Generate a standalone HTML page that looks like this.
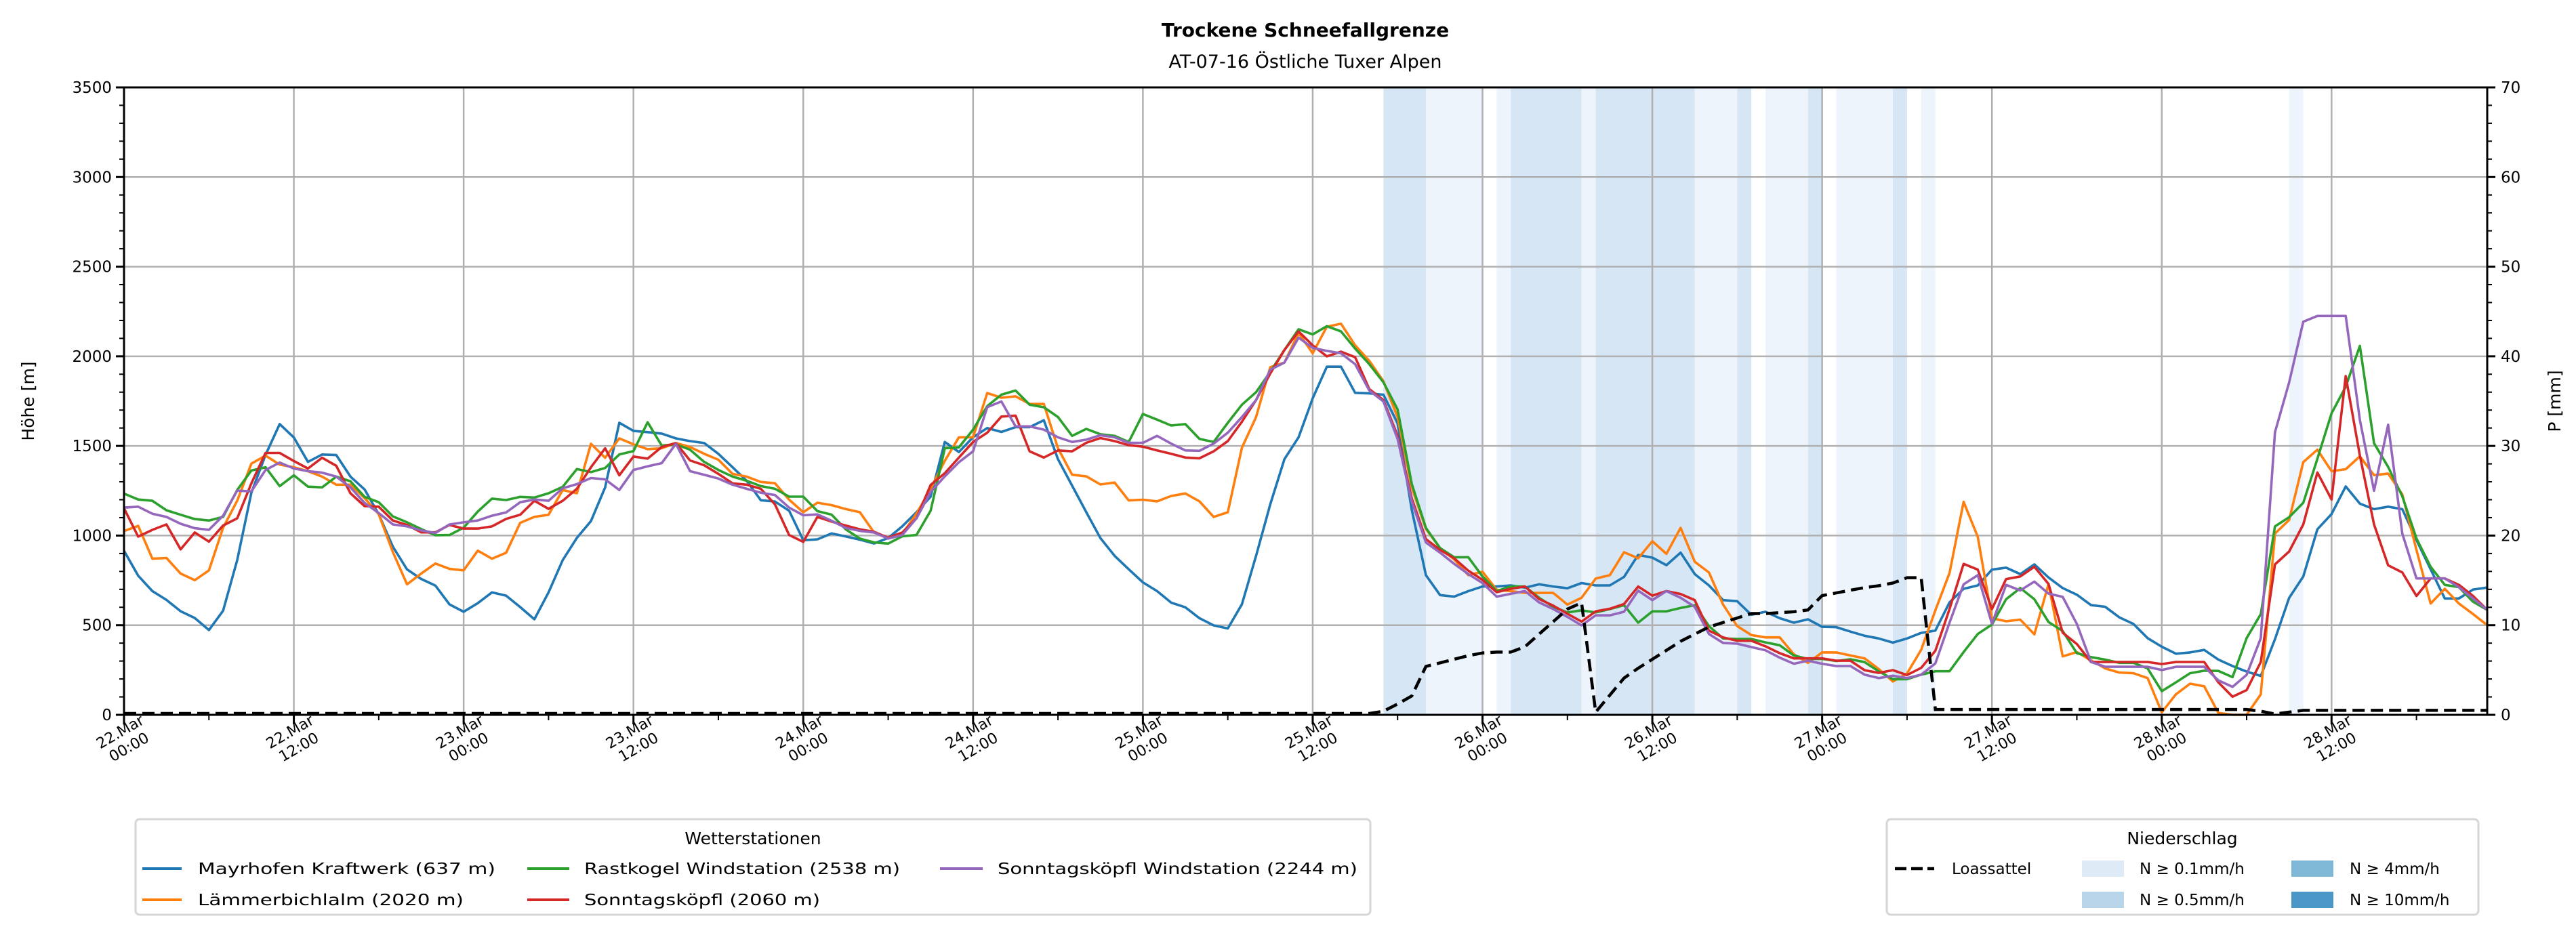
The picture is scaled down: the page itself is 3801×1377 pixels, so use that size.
<!DOCTYPE html>
<html><head><meta charset="utf-8"><style>
html,body{margin:0;padding:0;background:#fff;}
svg{display:block;font-family:"DejaVu Sans","Liberation Sans",sans-serif;}
</style></head><body>
<svg id="chart" width="3801" height="1377" viewBox="0 0 3801 1377" xmlns="http://www.w3.org/2000/svg">
<rect width="3801" height="1377" fill="#fff"/>
<text x="1926" y="54" text-anchor="middle" font-size="28" font-weight="bold">Trockene Schneefallgrenze</text>
<text x="1926" y="100" text-anchor="middle" font-size="27">AT-07-16 Östliche Tuxer Alpen</text>
<g id="bands"></g>
<g id="grid"></g>
<g id="series"></g>
<g id="axes"></g>
<text transform="translate(50,592) rotate(-90)" text-anchor="middle" font-size="25">Höhe [m]</text>
<text transform="translate(3778,592) rotate(-90)" text-anchor="middle" font-size="25">P [mm]</text>
<g>
<rect x="200" y="1209" width="1822" height="141" rx="6" fill="#fff" stroke="#d6d6d6" stroke-width="3"/>
<text x="1111" y="1246" text-anchor="middle" font-size="25">Wetterstationen</text>
<g><line x1="210" y1="1282" x2="268" y2="1282" stroke="#1f77b4" stroke-width="4"/><text x="292" y="1290" font-size="23" textLength="439" lengthAdjust="spacingAndGlyphs">Mayrhofen Kraftwerk (637 m)</text></g>
<g><line x1="210" y1="1328" x2="268" y2="1328" stroke="#ff7f0e" stroke-width="4"/><text x="292" y="1336" font-size="23" textLength="392" lengthAdjust="spacingAndGlyphs">Lämmerbichlalm (2020 m)</text></g>
<g><line x1="778" y1="1282" x2="840" y2="1282" stroke="#2ca02c" stroke-width="4"/><text x="862" y="1290" font-size="23" textLength="466" lengthAdjust="spacingAndGlyphs">Rastkogel Windstation (2538 m)</text></g>
<g><line x1="778" y1="1328" x2="840" y2="1328" stroke="#d62728" stroke-width="4"/><text x="862" y="1336" font-size="23" textLength="348" lengthAdjust="spacingAndGlyphs">Sonntagsköpfl (2060 m)</text></g>
<g><line x1="1387" y1="1282" x2="1450" y2="1282" stroke="#9467bd" stroke-width="4"/><text x="1472" y="1290" font-size="23" textLength="531" lengthAdjust="spacingAndGlyphs">Sonntagsköpfl Windstation (2244 m)</text></g>
</g>
<g>
<rect x="2784" y="1209" width="873" height="141" rx="6" fill="#fff" stroke="#d6d6d6" stroke-width="3"/>
<text x="3220" y="1246" text-anchor="middle" font-size="25">Niederschlag</text>
<g><line x1="2796" y1="1282" x2="2854" y2="1282" stroke="#000" stroke-width="4.5" stroke-dasharray="17,7"/><text x="2880" y="1290" font-size="23">Loassattel</text></g>
<g><rect x="3072" y="1270" width="62" height="24" fill="#deebf7"/><text x="3157" y="1290" font-size="23">N ≥ 0.1mm/h</text></g>
<g><rect x="3072" y="1316" width="62" height="24" fill="#b9d5ea"/><text x="3157" y="1336" font-size="23">N ≥ 0.5mm/h</text></g>
<g><rect x="3381" y="1270" width="62" height="24" fill="#7fb7d7"/><text x="3467" y="1290" font-size="23">N ≥ 4mm/h</text></g>
<g><rect x="3381" y="1316" width="62" height="24" fill="#4a97c8"/><text x="3467" y="1336" font-size="23">N ≥ 10mm/h</text></g>
</g>
</svg>
<script>
const blue=[915,776,690,641,578,540,473,581,863,1239,1450,1622,1547,1411,1452,1449,1329,1257,1119,938,811,758,721,616,575,623,683,665,601,533,683,863,987,1081,1269,1629,1584,1577,1569,1542,1527,1516,1456,1381,1306,1197,
1190,1139,974,979,1012,995,977,956,986,1052,1130,1217,1522,1466,1548,1600,1578,1605,1605,1643,1426,1278,1130,986,887,812,739,690,626,600,539,499,482,617,887,1174,1426,1548,1765,1942,1942,1796,1793,1786,1626,
1144,779,668,659,690,716,716,722,709,728,716,706,735,722,722,769,892,877,835,905,785,722,640,634,558,575,539,514,533,491,489,464,441,426,403,426,457,470,627,703,722,810,
821,785,839,766,707,670,612,603,544,507,428,380,341,348,362,308,272,241,217,422,652,772,1035,1120,1274,1178,1147,1161,1147,975,812,649,649,699,710];
const orange=[1025,1054,871,875,788,751,806,1044,1194,1401,1446,1396,1381,1359,1329,1284,1284,1209,1119,908,728,788,844,814,806,916,871,904,1071,1104,1116,1254,1236,1512,1434,1542,1509,1482,1487,1516,1494,1456,1423,1344,1329,1299,
1292,1200,1130,1183,1170,1148,1130,1017,986,1009,1122,1261,1417,1548,1548,1795,1769,1777,1734,1734,1487,1339,1330,1285,1296,1196,1200,1191,1221,1235,1191,1104,1130,1490,1661,1939,1965,2130,2017,2165,2182,2061,1974,1861,1661,
1270,1037,930,867,779,798,697,690,680,680,680,615,653,760,779,907,873,968,898,1043,854,794,615,495,445,432,432,338,290,348,348,331,315,256,186,231,363,583,791,1188,993,539,
522,531,449,730,326,350,304,259,236,232,205,14,114,174,159,11,0,0,114,1011,1087,1410,1479,1359,1370,1442,1337,1346,1229,920,621,703,621,562,500];
const green=[1234,1201,1194,1141,1116,1092,1084,1104,1254,1363,1381,1276,1336,1273,1269,1329,1303,1216,1186,1107,1074,1036,1002,1003,1044,1134,1206,1198,1216,1212,1236,1272,1371,1354,1377,1452,1471,1632,1502,1509,1479,1411,1366,1329,1306,1276,
1261,1217,1217,1136,1117,1035,983,962,955,996,1003,1139,1487,1492,1591,1722,1786,1809,1730,1716,1661,1556,1595,1565,1556,1522,1678,1647,1614,1622,1539,1522,1629,1730,1800,1913,2035,2151,2122,2168,2139,2043,1956,1855,1704,
1289,1043,930,879,879,772,690,716,716,653,602,571,583,571,590,612,514,577,577,596,612,495,426,423,423,404,388,331,312,312,300,310,294,243,199,199,224,243,243,350,451,504,
645,707,645,518,467,344,322,308,290,290,259,132,181,232,246,245,210,428,562,1051,1102,1183,1428,1682,1830,2058,1515,1383,1219,984,826,725,712,631,585];
const red=[1152,994,1032,1062,923,1017,966,1056,1096,1291,1461,1461,1416,1374,1434,1389,1236,1164,1161,1084,1059,1018,1018,1059,1039,1039,1051,1093,1116,1194,1149,1194,1261,1381,1487,1336,1441,1429,1494,1516,1419,1392,1344,1291,1284,1261,
1174,1003,965,1104,1078,1056,1035,1021,988,1017,1096,1282,1348,1435,1522,1574,1664,1669,1470,1435,1475,1470,1518,1544,1527,1504,1496,1475,1456,1435,1431,1470,1527,1635,1756,1904,2035,2139,2061,2000,2026,1995,1817,1756,1556,
1207,980,920,873,804,753,684,703,716,646,609,564,520,577,592,618,716,665,690,674,640,470,432,413,413,382,344,315,315,315,302,302,249,234,249,222,262,357,590,842,810,590,
757,772,826,730,458,395,295,295,295,295,295,283,295,295,295,181,101,138,295,839,911,1062,1352,1201,1890,1446,1062,834,794,663,761,761,725,663,585];
const purple=[1156,1161,1122,1104,1066,1041,1032,1111,1251,1246,1366,1407,1374,1359,1351,1329,1269,1182,1126,1062,1051,1029,1014,1062,1074,1084,1111,1129,1186,1201,1194,1264,1287,1321,1314,1254,1366,1386,1404,1512,1359,1339,1318,1284,1261,1239,
1226,1156,1113,1118,1083,1043,1026,1017,983,1003,1096,1243,1330,1409,1470,1716,1748,1609,1609,1591,1548,1522,1535,1560,1548,1517,1517,1556,1513,1475,1473,1513,1574,1661,1756,1925,1965,2104,2047,2030,2017,1956,1809,1748,1539,
1190,961,905,842,785,735,659,675,690,627,590,546,499,555,555,575,693,640,690,653,602,451,401,397,378,360,319,285,302,285,272,272,224,205,218,205,224,287,514,728,779,508,
725,694,743,676,658,507,295,268,268,268,268,250,268,268,268,192,156,223,428,1576,1854,2193,2225,2225,2225,1645,1250,1618,1011,761,761,761,712,649,585];
const loassattelStart=[0.15,0.15,0.15,0.15,0.15,0.15,0.15,0.15,0.15,0.15,0.15,0.15,0.15,0.15,0.15,0.15,0.15,0.15,0.15,0.15,0.15,0.15,0.15,0.15,0.15,0.15,0.15,0.15,0.15,0.15,0.15,0.15,0.15,0.15,0.15,0.15,0.15,0.15,0.15,0.15,0.15,0.15,0.15,0.15,0.15,0.15,0.15,0.15,0.15,0.15,0.15,0.15,0.15,0.15,0.15,0.15,0.15,0.15,0.15,0.15,0.15,0.15,0.15,0.15,0.15,0.15,0.15,0.15,0.15,0.15,0.15,0.15,0.15,0.15,0.15,0.15,0.15,0.15,0.15,0.15,0.15,0.15,0.15,0.15,0.15,0.15,0.15,0.15,0.15];
const loassattelRest=[0.4,1.2,2.1,5.4,5.8,6.2,6.6,6.9,7.0,7.0,7.6,9.0,10.4,11.8,12.5,0.3,2.2,4.1,5.2,6.2,7.2,8.2,9.0,9.8,10.3,10.8,11.3,11.3,11.4,11.5,11.7,13.3,13.6,13.9,14.2,14.4,14.7,15.3,15.3,0.6,0.6,0.6,0.6,0.6,0.6,0.6,0.6,0.6,0.6,0.6,0.6,0.6,0.6,0.6,0.6,0.6,0.6,0.6,0.6,0.6,0.6,0.6,0.4,0.1,0.3,0.5,0.5,0.5,0.5,0.5,0.5,0.5,0.5,0.5,0.5,0.5,0.5,0.5,0.5];
const bandStart=[89,92,97,98,103,104,111,114,116,119,121,125,127,153];
const bandEnd=[92,96,98,103,104,111,114,115,119,120,125,126,128,154];
const bandLevel=[2,1,1,2,1,2,1,2,1,2,1,2,1,1];
const xTickHours=[0,12,24,36,48,60,72,84,96,108,120,132,144,156];
const xTickDays=["22.Mar","22.Mar","23.Mar","23.Mar","24.Mar","24.Mar","25.Mar","25.Mar","26.Mar","26.Mar","27.Mar","27.Mar","28.Mar","28.Mar"];
const xTickTimes=["00:00","12:00","00:00","12:00","00:00","12:00","00:00","12:00","00:00","12:00","00:00","12:00","00:00","12:00"];
const yTicks=[0,500,1000,1500,2000,2500,3000,3500];
const y2Ticks=[0,10,20,30,40,50,60,70];

const NS="http://www.w3.org/2000/svg";
const L=183,R=3670,T=129,B=1055,HMAX=167,YMAX=3500,PMAX=70;
const xs=h=>L+h*(R-L)/HMAX;
const ys=v=>B-v*(B-T)/YMAX;
const yp=v=>B-v*(B-T)/PMAX;
function mk(tag,attrs,parent){const e=document.createElementNS(NS,tag);for(const k in attrs)e.setAttribute(k,attrs[k]);parent.appendChild(e);return e;}
const gB=document.getElementById('bands'),gG=document.getElementById('grid'),gS=document.getElementById('series'),gA=document.getElementById('axes');
const bandColors={1:"#eef4fb",2:"#d6e6f4",3:"#bfdaed",4:"#a4c9e4"};
bandStart.forEach((s,i)=>{
  const r=mk('rect',{x:xs(s),y:T,width:xs(bandEnd[i])-xs(s),height:B-T,fill:bandColors[bandLevel[i]]},gB);
  
  
});
xTickHours.forEach(h=>{const l=mk('line',{x1:xs(h),y1:T,x2:xs(h),y2:B,stroke:"#b0b0b0","stroke-width":2.5},gG);
  
  });
yTicks.forEach(v=>{const l=mk('line',{x1:L,y1:ys(v),x2:R,y2:ys(v),stroke:"#b0b0b0","stroke-width":2.5},gG);
  
  });
function path(vals,scale){return vals.map((v,i)=>(i?'L':'M')+xs(i).toFixed(1)+','+scale(v).toFixed(1)).join('');}
const loas=loassattelStart.concat(loassattelRest);
const ser=[[blue,"#1f77b4","line-mayrhofen"],[orange,"#ff7f0e","line-laemmerbichlalm"],[green,"#2ca02c","line-rastkogel"],[red,"#d62728","line-sonntagskoepfl"],[purple,"#9467bd","line-sonntagskoepfl-wind"]];
ser.forEach(s=>{const p=mk('path',{d:path(s[0],ys),fill:"none",stroke:s[1],"stroke-width":3.6,"stroke-linejoin":"round"},gS);
  
  });
const lp=mk('path',{d:path(loas,yp),fill:"none",stroke:"#000","stroke-width":4.5,"stroke-dasharray":"18,9"},gS);


const frame=mk('rect',{x:L,y:T,width:R-L,height:B-T,fill:"none",stroke:"#000","stroke-width":3},gA);


for(let v=0;v<=YMAX;v+=100){const major=v%500===0;mk('line',{x1:L-(major?12:7),y1:ys(v),x2:L,y2:ys(v),stroke:"#000","stroke-width":major?3:2},gA);}
for(let v=0;v<=PMAX;v+=2){const major=v%10===0;mk('line',{x1:R,y1:yp(v),x2:R+(major?12:7),y2:yp(v),stroke:"#000","stroke-width":major?3:2},gA);}
for(let h=0;h<=HMAX;h+=6){const major=h%12===0;mk('line',{x1:xs(h),y1:B,x2:xs(h),y2:B+(major?14:8),stroke:"#000","stroke-width":major?3:2},gA);}
yTicks.forEach(v=>{const t=mk('text',{x:L-18,y:ys(v)+8,"text-anchor":"end","font-size":23},gA);t.textContent=v;
  
  });
y2Ticks.forEach(v=>{const t=mk('text',{x:R+20,y:yp(v)+8,"font-size":23},gA);t.textContent=v;
  
  });
xTickHours.forEach((h,i)=>{const g=mk('g',{transform:`translate(${xs(h)},1090) rotate(-30)`},gA);
  
  
  const a=mk('text',{x:0,y:-4,"text-anchor":"middle","font-size":22},g);a.textContent=xTickDays[i];
  const b=mk('text',{x:0,y:22,"text-anchor":"middle","font-size":22},g);b.textContent=xTickTimes[i];});
</script>
</body></html>
